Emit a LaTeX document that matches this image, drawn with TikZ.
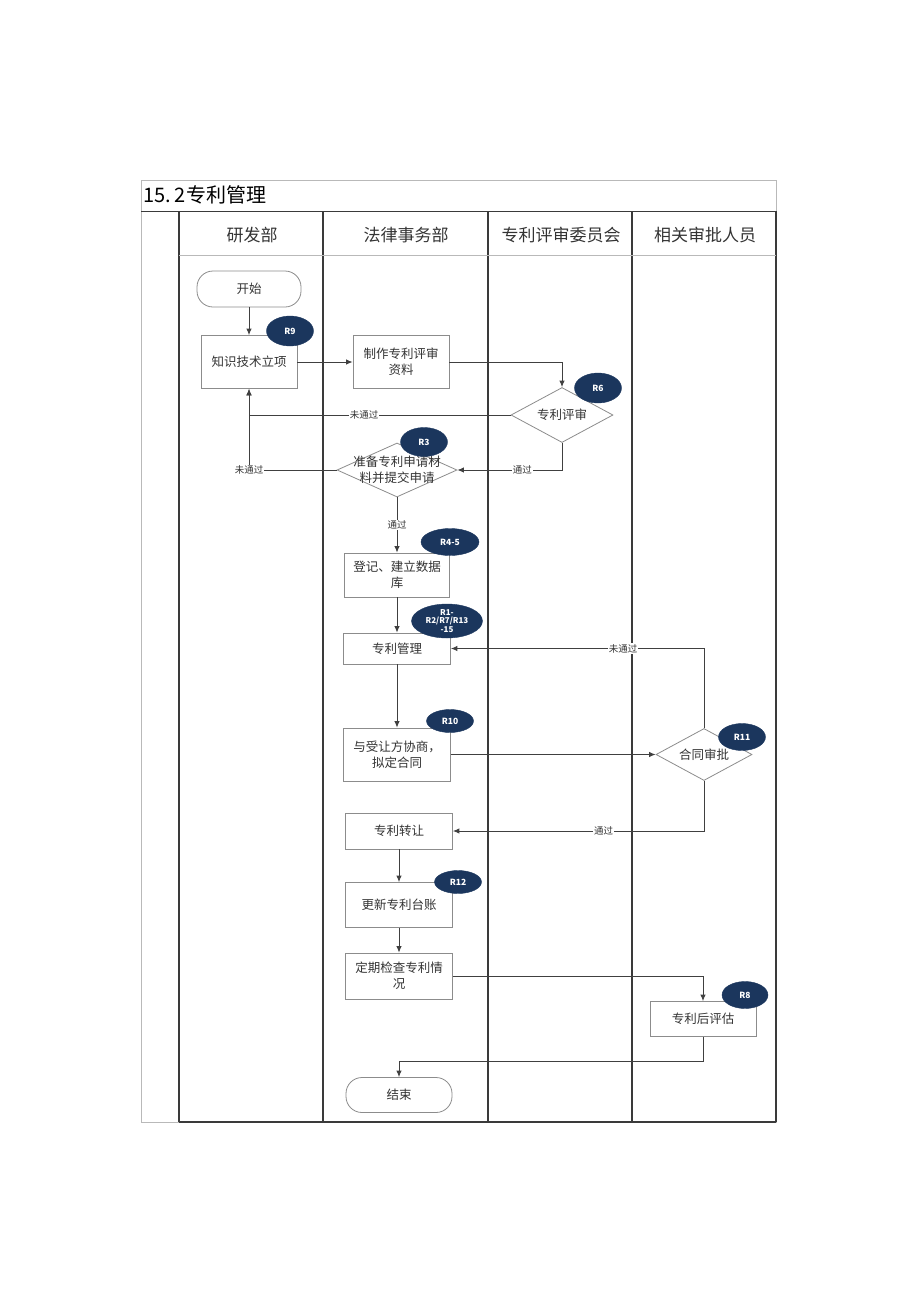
\documentclass[tikz,border=0pt]{standalone}
\usepackage{fontspec}
\setmainfont{Noto Sans CJK SC}
\usetikzlibrary{shapes.geometric,arrows.meta}
\definecolor{navy}{HTML}{1B365D}
\definecolor{lanec}{HTML}{3A3A3A}
\definecolor{boxc}{HTML}{8C8C8C}
\definecolor{txtc}{HTML}{333333}
\begin{document}
\begin{tikzpicture}[x=1pt,y=-1pt,
  laneline/.style={draw=lanec,line width=1.1pt},
  thinline/.style={draw=gray!55,line width=0.6pt},
  box/.style={draw=boxc,line width=0.8pt,fill=white,align=center,inner sep=1pt,
    text=txtc,font=\fontsize{12.5}{16}\selectfont},
  term/.style={box,rounded corners=16pt},
  dia/.style={diamond,draw=boxc,line width=0.8pt,fill=white,inner sep=0pt},
  diatext/.style={align=center,text=txtc,font=\fontsize{12.5}{16}\selectfont,inner sep=0pt},
  badge/.style={ellipse,fill=navy,draw=navy,inner sep=0pt,text=white,
    font=\fontsize{8.5}{9}\selectfont\bfseries},
  btext/.style={text=white,align=center,inner sep=0pt,font=\fontsize{8}{8.5}\selectfont\bfseries},
  conn/.style={draw=black!75,line width=0.9pt,-{Latex[length=6.5pt,width=5.5pt]}},
  lbl/.style={fill=white,inner sep=1pt,text=txtc,font=\fontsize{9.5}{10}\selectfont},
  hdr/.style={text=txtc,font=\fontsize{17}{18}\selectfont},
]
\useasboundingbox (0,0) rectangle (920,1301);
% ---------- table frame ----------
\draw[thinline] (141,180) rectangle (776,1122);
\draw[laneline,line width=0.8pt] (141,211) -- (776,211);
\draw[laneline] (179,211) -- (179,1122);
\draw[laneline] (323,211) -- (323,1122);
\draw[laneline] (488,211) -- (488,1122);
\draw[laneline] (632,211) -- (632,1122);
\draw[laneline] (776,211) -- (776,1122);
\draw[thinline] (179,255) -- (776,255);
\draw[laneline,line width=1.6pt] (179,1122) -- (776,1122);
\node[anchor=west,inner sep=0pt,text=black,font=\fontsize{20}{22}\selectfont] (title) at (143,195) {15.\hspace{4pt}2专利管理};
\node[hdr] (h1) at (252,235) {研发部};
\node[hdr] (h2) at (406,235) {法律事务部};
\node[hdr] (h3) at (561,235) {专利评审委员会};
\node[hdr] (h4) at (705,235) {相关审批人员};
% ---------- nodes ----------
\node[term,minimum width=104pt,minimum height=36pt] (start) at (249,289) {开始};
\node[box,minimum width=96pt,minimum height=53pt] (zs) at (249,362) {知识技术立项};
\node[box,minimum width=96pt,minimum height=53pt] (zz) at (401,362) {制作专利评审\\资料};
\node[dia,minimum width=102pt,minimum height=55pt] (ps) at (562,415) {};
\node[diatext] (pst) at (ps) {专利评审};
\node[dia,minimum width=120pt,minimum height=54pt] (zb) at (397,470) {};
\node[diatext] (zbt) at (zb) {准备专利申请材\\料并提交申请};
\node[box,minimum width=105pt,minimum height=44pt] (dj) at (397,575) {登记、建立数据\\库};
\node[box,minimum width=107pt,minimum height=31pt] (gl) at (397,648.5) {专利管理};
\node[box,minimum width=107pt,minimum height=53pt] (xs) at (397,754.5) {与受让方协商，\\拟定合同};
\node[dia,minimum width=96pt,minimum height=52pt] (ht) at (704,754.5) {};
\node[diatext] (htt) at (ht) {合同审批};
\node[box,minimum width=107pt,minimum height=36pt] (zr) at (399,831) {专利转让};
\node[box,minimum width=107pt,minimum height=45pt] (gx) at (399,905) {更新专利台账};
\node[box,minimum width=107pt,minimum height=46pt] (dq) at (399,976) {定期检查专利情\\况};
\node[box,minimum width=106pt,minimum height=35pt] (hp) at (703,1019) {专利后评估};
\node[term,minimum width=106pt,minimum height=35pt] (end) at (399,1095) {结束};
% ---------- badges ----------
\node[badge,minimum width=47pt,minimum height=30pt] (b9) at (290,331) {R9};
\node[badge,minimum width=47pt,minimum height=30pt] (b6) at (598,388) {R6};
\node[badge,minimum width=47pt,minimum height=29pt] (b3) at (424,442) {R3};
\node[badge,minimum width=58pt,minimum height=27pt] (b45) at (450,542) {R4-5};
\node[badge,minimum width=71pt,minimum height=34pt] (b1) at (447,621) {};
\node[btext] (b1t) at (b1) {R1-\\R2/R7/R13\\-15};
\node[badge,minimum width=47pt,minimum height=23pt] (b10) at (450,721) {R10};
\node[badge,minimum width=47pt,minimum height=27pt] (b11) at (742,737) {R11};
\node[badge,minimum width=47pt,minimum height=23pt] (b12) at (458,882) {R12};
\node[badge,minimum width=46pt,minimum height=27pt] (b8) at (745,995) {R8};
% ---------- connectors ----------
\draw[conn] (start) -- (zs);
\draw[conn] (zs.east) -- (zz.west);
\draw[conn] (zz.east) -| (ps.north);
\draw[conn] (ps.west) -| node[lbl,pos=0.28] {未通过} (zs.south);
\draw[conn] (zb.west) -| node[lbl,pos=0.5] {未通过} (zs.south);
\draw[conn] (ps.south) |- node[lbl,pos=0.69] {通过} (zb.east);
\draw[conn] (zb.south) -- node[lbl] {通过} (dj.north);
\draw[conn] (dj) -- (gl);
\draw[conn] (gl) -- (xs);
\draw[conn] (xs.east) -- (ht.west);
\draw[conn] (ht.north) |- node[lbl,pos=0.66] {未通过} (gl.east);
\draw[conn] (ht.south) |- node[lbl,pos=0.7] {通过} (zr.east);
\draw[conn] (zr) -- (gx);
\draw[conn] (gx) -- (dq);
\draw[conn] (dq.east) -| (hp.north);
\coordinate (k1) at (703,1061);
\draw[conn] (hp.south) -- (k1) -| (end.north);
\end{tikzpicture}
\end{document}
